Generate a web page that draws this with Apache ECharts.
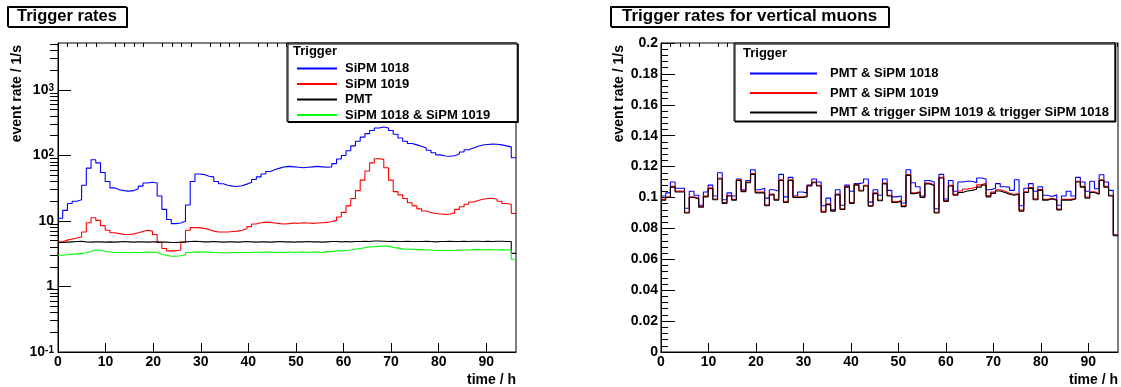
<!DOCTYPE html>
<html>
<head>
<meta charset="utf-8">
<script src="https://cdn.jsdelivr.net/npm/echarts@6/dist/echarts.min.js"></script>
<style>
  html, body { margin: 0; padding: 0; background: #fff; }
  #chart { width: 1121px; height: 387px; }
</style>
</head>
<body>
<div id="chart"></div>
<script>
// run length in hours, histograms have 97 bins over it
const xMax = 96.25
const xTicks = [0, 10, 20, 30, 40, 50, 60, 70, 80, 90]
const logTicks = [0.1, 1, 10, 100, 1000]

// left panel: trigger rates (1/s)
const sipm1018 = [11, 14.5, 18.5, 20, 21, 35, 64, 86, 77, 55,
  40, 32, 30, 29, 28.5, 29, 31, 34, 38, 39,
  38, 24, 15, 10.5, 9.1, 9.3, 9.9, 17.5, 40, 52,
  51, 48, 47, 40, 37, 35, 34, 33.5, 34.5, 36.5,
  39, 43, 47, 52, 57, 61, 64, 67, 68, 67,
  66, 65, 66, 67, 68, 67, 66, 67, 75, 88,
  100, 118, 140, 165, 190, 215, 240, 262, 272, 262,
  240, 210, 185, 165, 152, 145, 138, 130, 120, 110,
  102, 98, 97, 99, 105, 113, 122, 130, 138, 144,
  147, 149, 148, 145, 140, 135, 92]
const sipm1019 = [4.8, 5.1, 5.3, 5.5, 5.7, 6.8, 9.4, 11.2, 10.2, 8.5,
  7.2, 6.6, 6.4, 6.2, 6.2, 6.3, 6.6, 6.9, 7.2, 7.0,
  6.2, 4.7, 3.8, 3.5, 3.5, 3.6, 4.7, 7.2, 7.9, 7.9,
  7.7, 7.4, 7.0, 6.8, 6.8, 6.8, 6.9, 7.0, 7.2, 7.6,
  8.2, 9.0, 9.4, 9.6, 9.5, 9.3, 9.1, 9.0, 9.1, 9.3,
  9.2, 9.4, 9.3, 9.2, 9.3, 9.4, 9.5, 9.8, 10.2, 11.5,
  13.5, 17, 22, 29, 42, 58, 77, 89, 87, 65,
  42, 28, 25, 22, 19, 17, 15.3, 14.2, 13.5, 13.0,
  12.8, 12.6, 12.8, 13.3, 15, 16.5, 18, 19.5, 20.5, 21.5,
  22, 22.2, 21.5, 20, 18.5, 18, 13]
const pmt = [4.7, 4.75, 4.8, 4.85, 4.9, 4.8, 4.75, 4.8, 4.8, 4.75,
  4.8, 4.75, 4.8, 4.85, 4.8, 4.75, 4.8, 4.8, 4.75, 4.8,
  4.8, 4.75, 4.75, 4.7, 4.7, 4.75, 4.8, 4.85, 4.9, 4.85,
  4.8, 4.8, 4.85, 4.8, 4.75, 4.8, 4.8, 4.75, 4.8, 4.85,
  4.8, 4.75, 4.8, 4.8, 4.75, 4.8, 4.85, 4.8, 4.8, 4.75,
  4.8, 4.8, 4.85, 4.8, 4.8, 4.75, 4.8, 4.85, 4.85, 4.8,
  4.85, 4.8, 4.85, 4.85, 4.9, 4.85, 4.95, 4.95, 4.9, 4.85,
  4.9, 4.85, 4.85, 4.9, 4.85, 4.85, 4.85, 4.9, 4.85, 4.8,
  4.85, 4.85, 4.9, 4.85, 4.85, 4.9, 4.85, 4.9, 4.9, 4.85,
  4.9, 4.85, 4.9, 4.9, 4.85, 4.85, 3.2]
const coinc = [3.0, 3.05, 3.1, 3.15, 3.2, 3.25, 3.45, 3.6, 3.55, 3.45,
  3.35, 3.3, 3.3, 3.3, 3.28, 3.3, 3.3, 3.32, 3.35, 3.35,
  3.3, 3.1, 3.0, 2.9, 2.9, 2.95, 3.05, 3.3, 3.35, 3.35,
  3.35, 3.35, 3.3, 3.3, 3.25, 3.25, 3.3, 3.3, 3.3, 3.3,
  3.3, 3.35, 3.3, 3.35, 3.35, 3.3, 3.35, 3.3, 3.35, 3.3,
  3.35, 3.35, 3.3, 3.35, 3.35, 3.3, 3.4, 3.4, 3.5, 3.5,
  3.55, 3.6, 3.7, 3.8, 3.9, 4.0, 4.05, 4.1, 4.15, 4.1,
  3.95, 3.85, 3.75, 3.7, 3.7, 3.65, 3.65, 3.6, 3.6, 3.55,
  3.55, 3.55, 3.55, 3.55, 3.6, 3.6, 3.6, 3.65, 3.65, 3.6,
  3.65, 3.65, 3.6, 3.65, 3.6, 3.6, 2.6]

// right panel: vertical muons (1/s)
const pmt1018 = [0.101, 0.103, 0.110, 0.106, 0.106, 0.093, 0.104, 0.1015, 0.095, 0.1036,
  0.108, 0.101, 0.116, 0.0985, 0.103, 0.101, 0.112, 0.105, 0.111, 0.118,
  0.105, 0.106, 0.0996, 0.105, 0.104, 0.115, 0.1004, 0.113, 0.101, 0.1036,
  0.103, 0.108, 0.112, 0.110, 0.0947, 0.0996, 0.092, 0.105, 0.095, 0.108,
  0.104, 0.109, 0.1095, 0.112, 0.097, 0.105, 0.1015, 0.112, 0.1046, 0.1004,
  0.101, 0.0964, 0.118, 0.1095, 0.107, 0.101, 0.111, 0.110, 0.0927, 0.115,
  0.099, 0.111, 0.104, 0.110, 0.1105, 0.1105, 0.1095, 0.1126, 0.112, 0.105,
  0.106, 0.109, 0.107, 0.1067, 0.1046, 0.1115, 0.0947, 0.106, 0.109, 0.104,
  0.107, 0.1015, 0.1006, 0.1017, 0.095, 0.101, 0.104, 0.101, 0.113, 0.110,
  0.104, 0.1105, 0.1057, 0.1147, 0.110, 0.1046, 0.0758]
const pmt1019 = [0.0988, 0.1005, 0.1072, 0.1041, 0.1041, 0.0905, 0.1005, 0.0995, 0.0942, 0.1009,
  0.1062, 0.099, 0.1125, 0.0967, 0.1015, 0.0988, 0.1115, 0.1043, 0.11, 0.1155,
  0.1035, 0.1035, 0.0952, 0.1022, 0.0988, 0.1115, 0.0973, 0.1115, 0.1005, 0.1005,
  0.1009, 0.1079, 0.11, 0.1079, 0.091, 0.0959, 0.0917, 0.1022, 0.0927, 0.1072,
  0.0967, 0.1085, 0.1047, 0.1079, 0.0948, 0.103, 0.0984, 0.1093, 0.1015, 0.0973,
  0.098, 0.0946, 0.1148, 0.103, 0.1037, 0.1005, 0.1093, 0.1083, 0.0905, 0.1131,
  0.098, 0.1079, 0.102, 0.1042, 0.1055, 0.106, 0.1068, 0.1082, 0.1092, 0.1012,
  0.1035, 0.105, 0.104, 0.1028, 0.102, 0.1026, 0.0918, 0.1037, 0.1064, 0.0992,
  0.1051, 0.0988, 0.0995, 0.0988, 0.0925, 0.0988, 0.0988, 0.0995, 0.1105, 0.1072,
  0.1003, 0.1037, 0.1026, 0.1115, 0.1072, 0.1015, 0.0757]
const pmtAll = [0.0983, 0.100, 0.1067, 0.1036, 0.1036, 0.090, 0.100, 0.099, 0.0937, 0.1004,
  0.1057, 0.0985, 0.112, 0.0962, 0.101, 0.0983, 0.111, 0.1038, 0.1095, 0.115,
  0.103, 0.103, 0.0947, 0.1017, 0.0983, 0.111, 0.0968, 0.111, 0.100, 0.100,
  0.1004, 0.1074, 0.1095, 0.1074, 0.0905, 0.0954, 0.0912, 0.1017, 0.0922, 0.1067,
  0.0962, 0.108, 0.1042, 0.1074, 0.0943, 0.1025, 0.0979, 0.1088, 0.101, 0.0968,
  0.0975, 0.0941, 0.1143, 0.1025, 0.1032, 0.100, 0.1088, 0.1078, 0.090, 0.1126,
  0.0975, 0.1074, 0.1015, 0.1032, 0.1042, 0.1046, 0.1053, 0.1067, 0.108, 0.1004,
  0.1027, 0.1042, 0.1032, 0.1021, 0.1015, 0.1021, 0.0912, 0.1032, 0.1059, 0.0985,
  0.1046, 0.0983, 0.099, 0.0983, 0.092, 0.0983, 0.0983, 0.099, 0.110, 0.1067,
  0.0996, 0.1032, 0.1021, 0.111, 0.1067, 0.101, 0.0752]

const F = '"Liberation Sans", Arial, sans-serif'
const txt = { fontFamily: F, fontWeight: 'bold', color: '#000' }

// bin left edges + closing point, drawn as a step line
function toSteps(vals) {
  const w = xMax / vals.length
  const pts = vals.map((v, i) => [i * w, v])
  pts.push([xMax, vals[vals.length - 1]])
  return pts
}

function hist(name, vals, color, xi, yi) {
  return {
    name: name, type: 'line', step: 'end', symbol: 'none',
    xAxisIndex: xi, yAxisIndex: yi,
    data: toSteps(vals),
    lineStyle: { color: color, width: 1.1 },
    itemStyle: { color: color },
    silent: true
  }
}

// minor tick positions
const xMinor = []
for (let v = 2; v <= 96; v += 2) if (v % 10) xMinor.push(v)
const logMinor = []
for (let e = -1; e <= 3; e++) for (let m = 2; m <= 9; m++) if (m * Math.pow(10, e) < 5200) logMinor.push(m * Math.pow(10, e))

function logLabel(v) {
  const e = Math.round(Math.log10(v))
  if (e === 0) return '{b|1}'
  if (e === 1) return '{b|10}'
  return '{b|10}{s|' + e + '}'
}

function mainX(grid) {
  return {
    type: 'value', gridIndex: grid, min: 0, max: xMax,
    name: 'time / h', nameLocation: 'end', nameGap: 0,
    nameTextStyle: Object.assign({ fontSize: 14, align: 'right', verticalAlign: 'top', padding: [21, 0, 0, 0] }, txt),
    axisLine: { lineStyle: { color: '#000', width: 1 } },
    axisTick: { inside: true, length: 9, customValues: xTicks, lineStyle: { color: '#000' } },
    axisLabel: Object.assign({ fontSize: 14, margin: 3, customValues: xTicks }, txt),
    splitLine: { show: false }
  }
}
function minorX(grid) {
  return {
    type: 'value', gridIndex: grid, min: 0, max: xMax,
    axisLine: { show: false },
    axisTick: { inside: true, length: 4, customValues: xMinor, lineStyle: { color: '#000' } },
    axisLabel: { show: false },
    splitLine: { show: false }
  }
}

// legend box, a fresh object each time
function legendBox(names, extra) {
  return Object.assign({
    data: names,
    orient: 'vertical', itemHeight: 12, selectedMode: false,
    borderColor: '#000', borderWidth: 1, backgroundColor: '#fff',
    shadowColor: '#000', shadowOffsetX: 1, shadowOffsetY: 1,
    itemStyle: { opacity: 0 }
  }, extra)
}

const chart = echarts.init(document.getElementById('chart'))

chart.setOption({
  animation: false,
  backgroundColor: '#fff',
  title: [
    { text: 'Trigger rates', left: 7, top: 6, padding: [2, 10, 2, 10],
      borderColor: '#000', borderWidth: 1, backgroundColor: '#fff',
      shadowColor: '#000', shadowOffsetX: 1, shadowOffsetY: 1,
      textStyle: Object.assign({ fontSize: 16.5 }, txt) },
    { text: 'Trigger rates for vertical muons', left: 610, top: 6, padding: [2, 12, 2, 12],
      borderColor: '#000', borderWidth: 1, backgroundColor: '#fff',
      shadowColor: '#000', shadowOffsetX: 1, shadowOffsetY: 1,
      textStyle: Object.assign({ fontSize: 17 }, txt) }
  ],
  grid: [
    { left: 58, top: 43, width: 458, height: 310, show: true, borderColor: '#000', borderWidth: 1 },
    { left: 661, top: 43, width: 457.5, height: 310, show: true, borderColor: '#000', borderWidth: 1 }
  ],
  legend: [
    legendBox(['SiPM 1018', 'SiPM 1019', 'PMT', 'SiPM 1018 & SiPM 1019'], {
      left: 287, top: 43, padding: [19, 27, 0, 9], itemWidth: 40, itemGap: 2.5,
      textStyle: Object.assign({ fontSize: 13, lineHeight: 12, padding: [0, 0, 0, 3] }, txt) }),
    legendBox(['PMT & SiPM 1018', 'PMT & SiPM 1019', 'PMT & trigger SiPM 1019 & trigger SiPM 1018'], {
      left: 734, top: 43, padding: [24, 6, 2, 15], itemWidth: 67, itemGap: 6.5,
      textStyle: Object.assign({ fontSize: 13, lineHeight: 12, padding: [0, 0, 0, 8] }, txt) })
  ],
  graphic: [
    { type: 'text', x: 17, y: 45, rotation: Math.PI / 2, z: 100,
      style: { text: 'event rate / 1/s', font: 'bold 14px ' + F, align: 'right', verticalAlign: 'middle', fill: '#000' } },
    { type: 'text', x: 619, y: 45, rotation: Math.PI / 2, z: 100,
      style: { text: 'event rate / 1/s', font: 'bold 14px ' + F, align: 'right', verticalAlign: 'middle', fill: '#000' } },
    { type: 'text', x: 293, y: 51, z: 100,
      style: { text: 'Trigger', font: 'bold 13px ' + F, verticalAlign: 'middle', fill: '#000' } },
    { type: 'text', x: 743, y: 53, z: 100,
      style: { text: 'Trigger', font: 'bold 13px ' + F, verticalAlign: 'middle', fill: '#000' } }
  ],
  xAxis: [mainX(0), minorX(0), mainX(1), minorX(1)],
  yAxis: [
    { type: 'log', logBase: 10, gridIndex: 0, min: 0.1, max: 5200,
      axisLine: { lineStyle: { color: '#000', width: 1 } },
      axisTick: { inside: true, length: 13, customValues: logTicks, lineStyle: { color: '#000' } },
      axisLabel: {
        margin: 4, customValues: logTicks, formatter: logLabel,
        rich: {
          b: Object.assign({ fontSize: 14, lineHeight: 14 }, txt),
          s: Object.assign({ fontSize: 10, lineHeight: 8, verticalAlign: 'top' }, txt)
        }
      },
      splitLine: { show: false } },
    { type: 'log', logBase: 10, gridIndex: 0, min: 0.1, max: 5200,
      axisLine: { show: false },
      axisTick: { inside: true, length: 8, customValues: logMinor, lineStyle: { color: '#000' } },
      axisLabel: { show: false },
      splitLine: { show: false } },
    { type: 'value', gridIndex: 1, min: 0, max: 0.2, interval: 0.02,
      axisLine: { lineStyle: { color: '#000', width: 1 } },
      axisTick: { inside: true, length: 14, lineStyle: { color: '#000' } },
      minorTick: { show: true, splitNumber: 5, length: 7, lineStyle: { color: '#000' } },
      axisLabel: Object.assign({ fontSize: 14, margin: 3 }, txt),
      splitLine: { show: false } }
  ],
  series: [
    hist('SiPM 1018', sipm1018, '#0000ff', 0, 0),
    hist('SiPM 1019', sipm1019, '#ff0000', 0, 0),
    hist('PMT', pmt, '#000000', 0, 0),
    hist('SiPM 1018 & SiPM 1019', coinc, '#00ff00', 0, 0),
    hist('PMT & SiPM 1018', pmt1018, '#0000ff', 2, 2),
    hist('PMT & SiPM 1019', pmt1019, '#ff0000', 2, 2),
    hist('PMT & trigger SiPM 1019 & trigger SiPM 1018', pmtAll, '#000000', 2, 2)
  ]
})
</script>
</body>
</html>
